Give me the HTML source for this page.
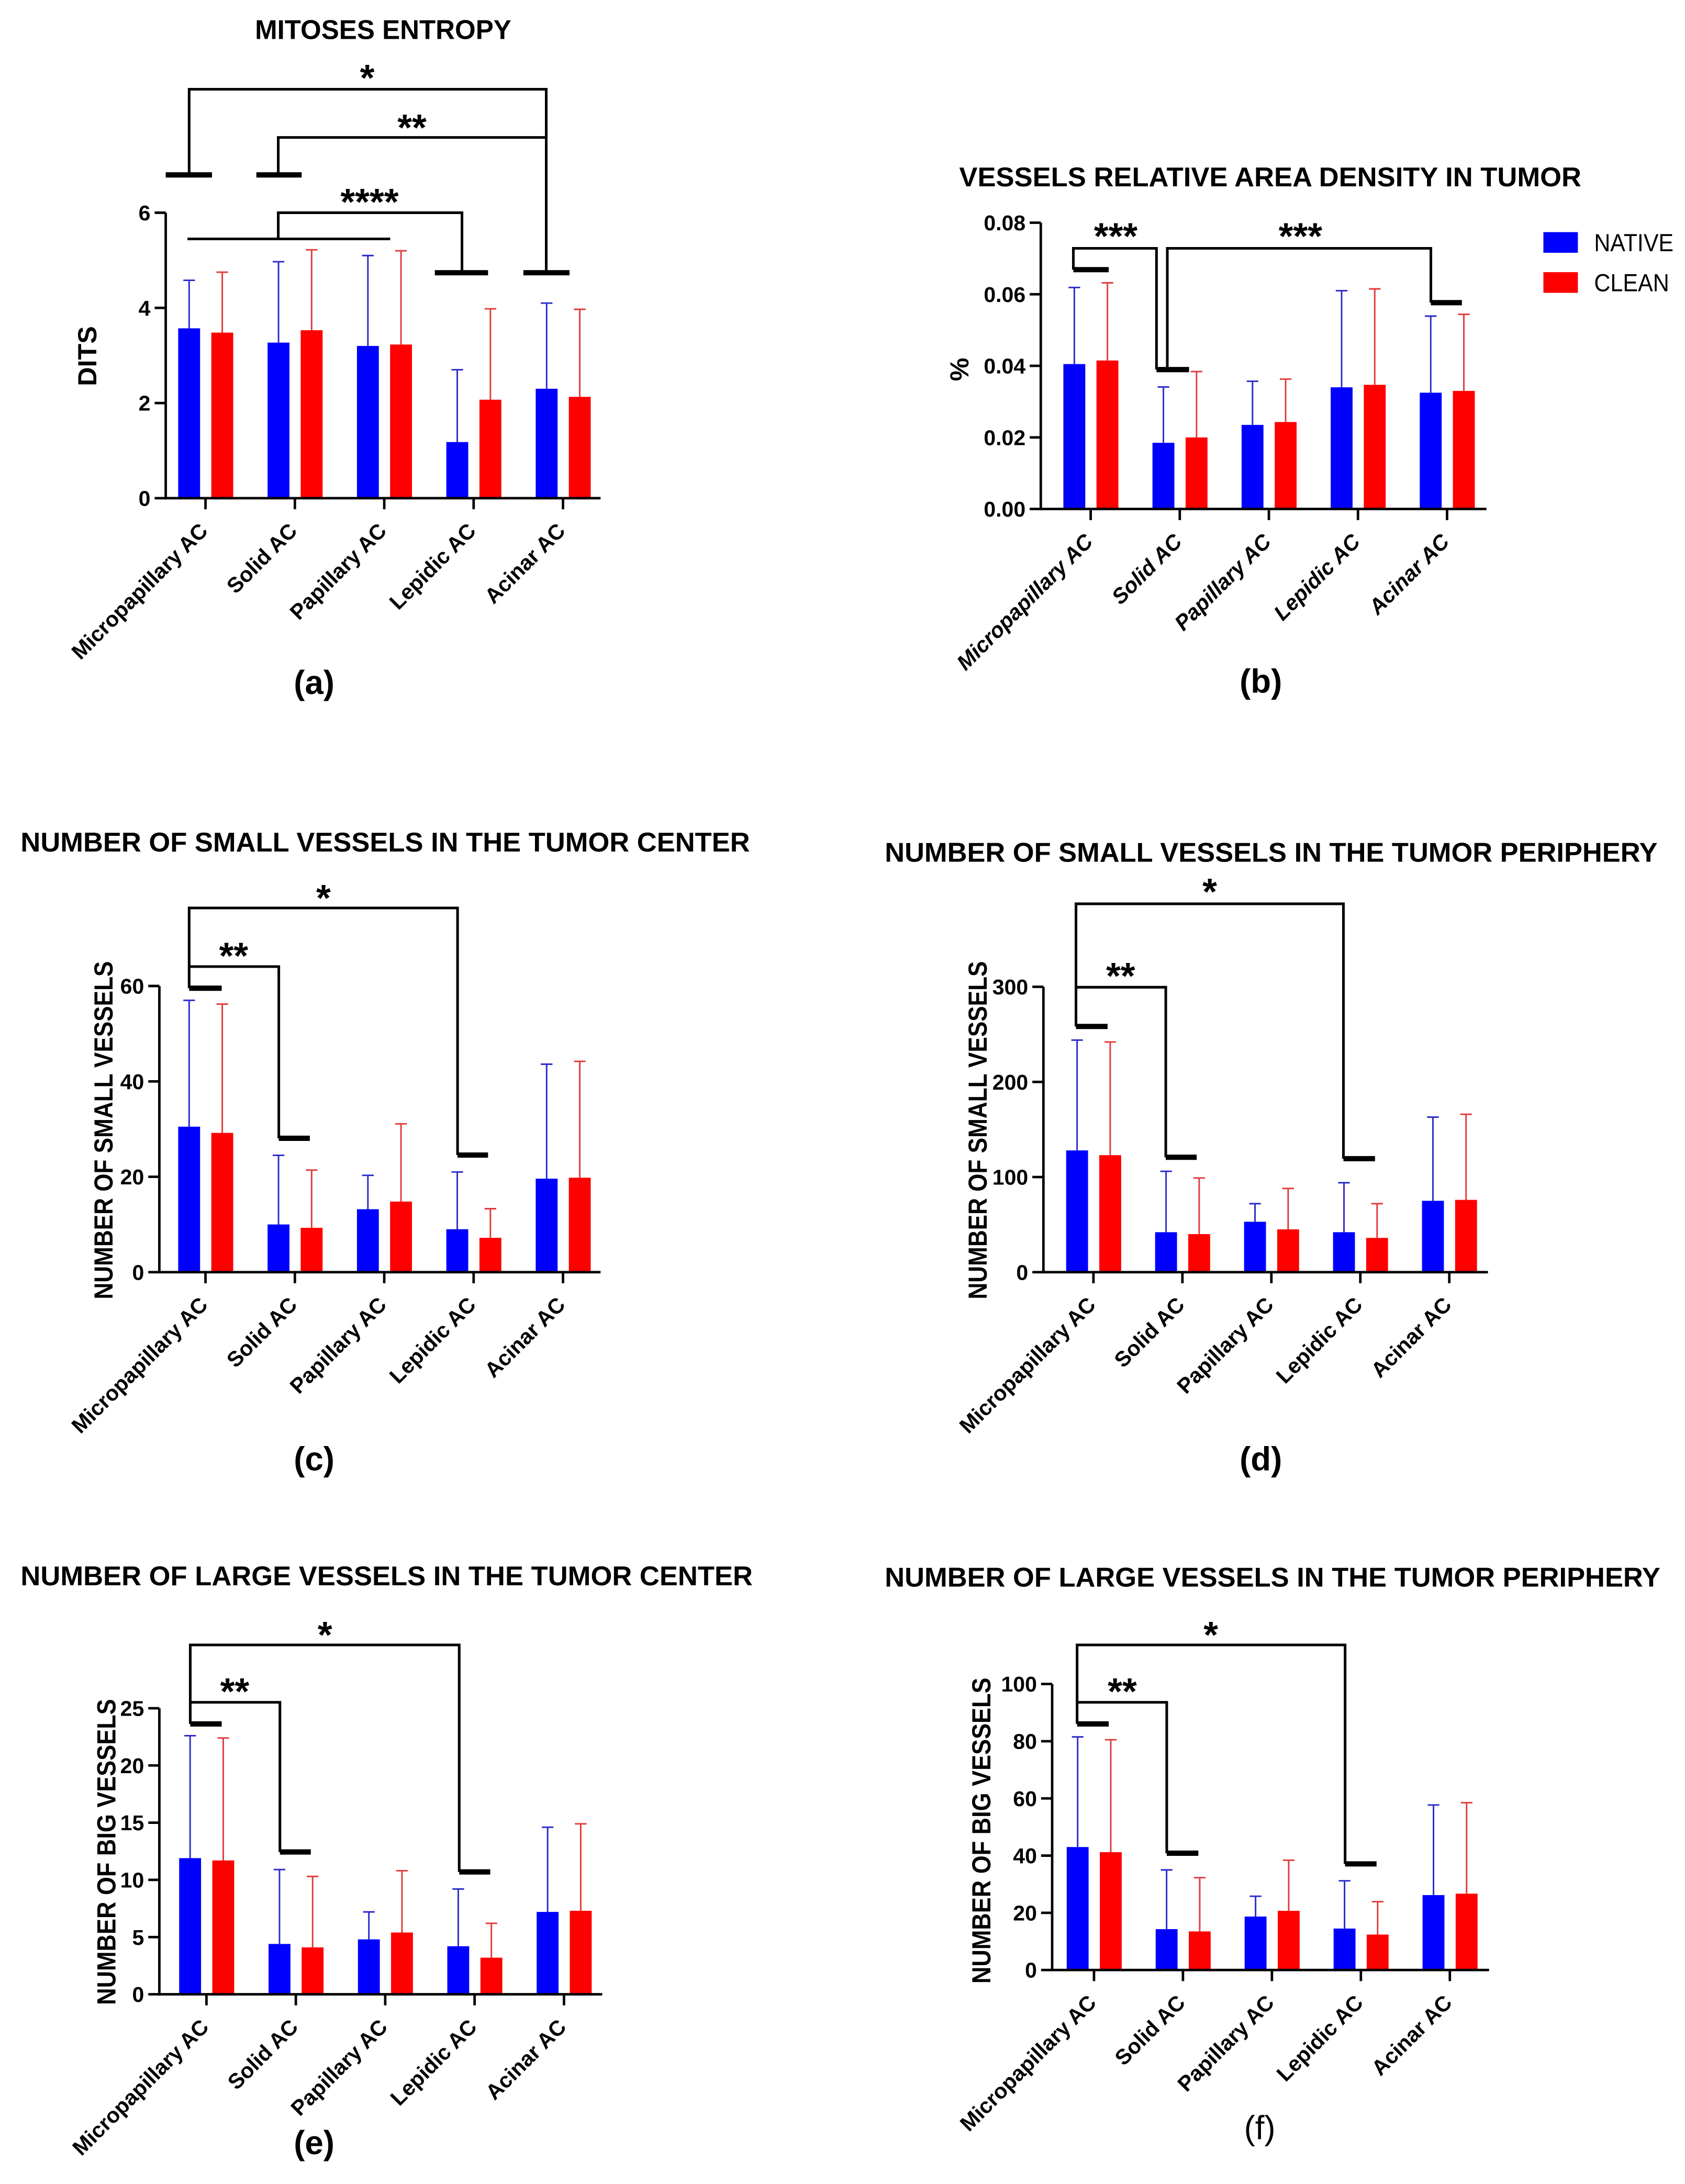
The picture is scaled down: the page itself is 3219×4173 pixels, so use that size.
<!DOCTYPE html>
<html>
<head>
<meta charset="utf-8">
<style>
  html, body { margin: 0; padding: 0; background: #ffffff; }
  svg { display: block; }
  text { font-family: "Liberation Sans", sans-serif; fill: #000; }
</style>
</head>
<body>
<svg id="fig" xmlns="http://www.w3.org/2000/svg" width="3219" height="4173" viewBox="0 0 1216 1576" preserveAspectRatio="none">
  <rect x="0" y="0" width="1216" height="1576" fill="#ffffff"/>
</svg>
<script>
// ---------- DATA ----------
const categories = ["Micropapillary AC", "Solid AC", "Papillary AC", "Lepidic AC", "Acinar AC"];

const aNative = [3.57, 3.27, 3.2, 1.18, 2.3];
const aClean = [3.48, 3.53, 3.23, 2.07, 2.13];
const aNativeErr = [4.58, 4.97, 5.1, 2.7, 4.1];
const aCleanErr = [4.75, 5.22, 5.2, 3.98, 3.97];
const aTicks = [0, 2, 4, 6];
const aTickLabels = ["0", "2", "4", "6"];

const bNative = [0.0405, 0.0185, 0.0235, 0.034, 0.0325];
const bClean = [0.0415, 0.0200, 0.0243, 0.0347, 0.0330];
const bNativeErr = [0.0619, 0.0341, 0.0357, 0.0610, 0.0539];
const bCleanErr = [0.0632, 0.0384, 0.0363, 0.0615, 0.0544];
const bTicks = [0, 0.02, 0.04, 0.06, 0.08];
const bTickLabels = ["0.00", "0.02", "0.04", "0.06", "0.08"];

const cNative = [30.5, 10.0, 13.2, 9.0, 19.6];
const cClean = [29.2, 9.3, 14.8, 7.2, 19.8];
const cNativeErr = [57.0, 24.5, 20.3, 21.0, 43.6];
const cCleanErr = [56.2, 21.4, 31.1, 13.3, 44.2];
const cTicks = [0, 20, 40, 60];
const cTickLabels = ["0", "20", "40", "60"];

const dNative = [128, 42, 53, 42, 75];
const dClean = [123, 40, 45, 36, 76];
const dNativeErr = [244, 106, 72, 94, 163];
const dCleanErr = [242, 99, 88, 72, 166];
const dTicks = [0, 100, 200, 300];
const dTickLabels = ["0", "100", "200", "300"];

const eNative = [11.9, 4.4, 4.8, 4.2, 7.2];
const eClean = [11.7, 4.1, 5.4, 3.2, 7.3];
const eNativeErr = [22.6, 10.9, 7.2, 9.2, 14.6];
const eCleanErr = [22.4, 10.3, 10.8, 6.2, 14.9];
const eTicks = [0, 5, 10, 15, 20, 25];
const eTickLabels = ["0", "5", "10", "15", "20", "25"];

const fNative = [43.0, 14.3, 18.7, 14.5, 26.2];
const fClean = [41.2, 13.5, 20.7, 12.4, 26.7];
const fNativeErr = [81.5, 35.0, 25.8, 31.2, 57.7];
const fCleanErr = [80.5, 32.3, 38.4, 23.9, 58.5];
const fTicks = [0, 20, 40, 60, 80, 100];
const fTickLabels = ["0", "20", "40", "60", "80", "100"];

// ---------- DRAWING ----------
const NS = "http://www.w3.org/2000/svg";
const svg = document.getElementById("fig");

function mk(tag, attrs, parent) {
  const el = document.createElementNS(NS, tag);
  for (const k in attrs) el.setAttribute(k, attrs[k]);
  (parent || svg).appendChild(el);
  return el;
}

function drawPanel(p) {
  const g = mk("g", {});
  
  
  const yScale = v => p.y0 - (v - p.min) / (p.max - p.min) * (p.y0 - p.yTop);
  const xScale = i => p.tick0 + i * p.step;

  const series = [
    { vals: p.nat, errs: p.natErr, off: -11.8, fill: "#0000ff", line: "#2a2acc", nm: "native" },
    { vals: p.cln, errs: p.clnErr, off: 12.1, fill: "#ff0000", line: "#e23a3a", nm: "clean" }
  ];
  series.forEach(s => {
    s.vals.forEach((v, i) => {
      const cx = xScale(i) + s.off;
      const top = yScale(v);
      const et = yScale(s.errs[i]);
      const eb = mk("path", { d: `M${cx},${top} V${et} M${cx - 4.2},${et} H${cx + 4.2}`, stroke: s.line, "stroke-width": 1.1, fill: "none" }, g);
      
      
      const r = mk("rect", { x: cx - 7.9, y: top, width: 15.8, height: p.y0 - top, fill: s.fill }, g);
      
      
    });
  });

  const ya = mk("line", { x1: p.axisX, y1: p.yTop, x2: p.axisX, y2: p.y0 + 0.9, stroke: "#000", "stroke-width": 1.8 }, g);
  
  
  const xa = mk("line", { x1: p.axisX - 8, y1: p.y0, x2: p.xEnd, y2: p.y0, stroke: "#000", "stroke-width": 1.8 }, g);
  
  

  p.ticks.forEach((t, i) => {
    const y = yScale(t);
    if (i > 0) {
      const tk = mk("line", { x1: p.axisX - 8, y1: y, x2: p.axisX, y2: y, stroke: "#000", "stroke-width": 1.8 }, g);
      
      
    }
    const tl = mk("text", { x: p.axisX - 11, y: y + 5.5, "text-anchor": "end", "font-size": 15.5, "font-weight": "bold" }, g);
    tl.textContent = p.tickLabels[i];
    
    
  });

  categories.forEach((c, i) => {
    const x = xScale(i);
    const tk = mk("line", { x1: x, y1: p.y0, x2: x, y2: p.y0 + 8, stroke: "#000", "stroke-width": 1.8 }, g);
    
    
    const lx = x + 2.5, ly = p.y0 + 24.5;
    const t = mk("text", { x: lx, y: ly, "text-anchor": "end", "font-size": 15.5, "font-weight": "bold", transform: `rotate(-45 ${lx} ${ly})` }, g);
    if (p.italic) t.setAttribute("font-style", "italic");
    t.textContent = c;
    
    
  });

  const tt = mk("text", { x: p.title.x, y: p.title.cy + 7, "font-size": 19.5, "font-weight": "bold", textLength: p.title.w, lengthAdjust: "spacingAndGlyphs" }, g);
  tt.textContent = p.title.t;
  
  

  const yt = p.ytitle;
  const yEl = mk("text", { x: yt.cx, y: yt.cy, "text-anchor": "middle", "font-size": 19, "font-weight": "bold", transform: `rotate(-90 ${yt.cx} ${yt.cy}) translate(0 6.8)` }, g);
  if (yt.w) { yEl.setAttribute("textLength", yt.w); yEl.setAttribute("lengthAdjust", "spacingAndGlyphs"); }
  yEl.textContent = yt.t;
  
  

  const br = mk("path", { d: p.brLines, stroke: "#000", "stroke-width": 1.9, fill: "none" }, g);
  
  
  const cp = mk("path", { d: p.brCaps, stroke: "#000", "stroke-width": 3.8, fill: "none" }, g);
  
  
  p.stars.forEach(s => {
    const st = mk("text", { x: s[0], y: s[1] + 15, "text-anchor": "middle", "font-size": 27, "font-weight": "bold" }, g);
    st.textContent = s[2];
    
    
  });

  const pl = mk("text", { x: p.letter[0], y: p.letter[1] + 8, "text-anchor": "middle", "font-size": 24, "font-weight": p.letter[3] ? "normal" : "bold", "font-family": p.letter[3] ? '"Liberation Serif", serif' : '"Liberation Sans", sans-serif' }, g);
  pl.textContent = p.letter[2];
  
  
}

drawPanel({
  id: "panel-a", nat: aNative, cln: aClean, natErr: aNativeErr, clnErr: aCleanErr,
  ticks: aTicks, tickLabels: aTickLabels, min: 0, max: 6,
  y0: 359.5, yTop: 153.5, axisX: 119.6, xEnd: 433.4, tick0: 148.3, step: 64.5,
  title: { t: "MITOSES ENTROPY", x: 184, cy: 21.1, w: 185 },
  ytitle: { t: "DITS", cx: 62.8, cy: 257 },
  brLines: "M136.5,126.2 V64.4 H394.2 V196.8 M200.8,126.2 V99.2 H394.2 M135.3,172.4 H281.6 M200.8,172.4 V153.5 H333.4 V196.8",
  brCaps: "M119.6,126.2 H153 M185,126.2 H217.7 M377.7,196.8 H411 M313.8,196.8 H352.2",
  stars: [[265, 50.4, "*"], [297.3, 86.2, "**"], [266.7, 139.9, "****"]],
  letter: [226.7, 492.8, "(a)"]
});

drawPanel({
  id: "panel-b", nat: bNative, cln: bClean, natErr: bNativeErr, clnErr: bCleanErr,
  ticks: bTicks, tickLabels: bTickLabels, min: 0, max: 0.08,
  y0: 367.3, yTop: 160.7, axisX: 751.1, xEnd: 1072.7, tick0: 787.1, step: 64.3, italic: true,
  title: { t: "VESSELS RELATIVE AREA DENSITY IN TUMOR", x: 692.2, cy: 127.5, w: 449 },
  ytitle: { t: "%", cx: 692, cy: 266.6 },
  brLines: "M774.6,194.6 V179.2 H834.6 V266.7 M842.4,266.7 V179.2 H1032.6 V218.4",
  brCaps: "M774.6,194.6 H800.1 M834.6,266.7 H858.1 M1032.6,218.4 H1055",
  stars: [[805.2, 164.6, "***"], [938.5, 164.6, "***"]],
  letter: [909.9, 491.9, "(b)"]
});

drawPanel({
  id: "panel-c", nat: cNative, cln: cClean, natErr: cNativeErr, clnErr: cCleanErr,
  ticks: cTicks, tickLabels: cTickLabels, min: 0, max: 60,
  y0: 918, yTop: 711.5, axisX: 115, xEnd: 433.4, tick0: 148.3, step: 64.5,
  title: { t: "NUMBER OF SMALL VESSELS IN THE TUMOR CENTER", x: 14.9, cy: 607.4, w: 526.3 },
  ytitle: { t: "NUMBER OF SMALL VESSELS", cx: 74.5, cy: 815.6, w: 244 },
  brLines: "M136.5,713.1 V655.2 H330.2 V833.5 M136.5,697.5 H201.2 V821.4",
  brCaps: "M136.5,713.1 H160 M330.2,833.5 H352.2 M201.2,821.4 H223.6",
  stars: [[233.4, 642.2, "*"], [168.6, 683.8, "**"]],
  letter: [226.7, 1053, "(c)"]
});

drawPanel({
  id: "panel-d", nat: dNative, cln: dClean, natErr: dNativeErr, clnErr: dCleanErr,
  ticks: dTicks, tickLabels: dTickLabels, min: 0, max: 300,
  y0: 918, yTop: 712.1, axisX: 753, xEnd: 1073.8, tick0: 789.1, step: 64.2,
  title: { t: "NUMBER OF SMALL VESSELS IN THE TUMOR PERIPHERY", x: 638.5, cy: 614.8, w: 557.7 },
  ytitle: { t: "NUMBER OF SMALL VESSELS", cx: 705.2, cy: 815.6, w: 244 },
  brLines: "M776.5,740.7 V652.2 H969.5 V836.1 M776.5,712.4 H841.3 V835.1",
  brCaps: "M776.5,740.7 H799.3 M969.5,836.1 H992.3 M841.3,835.1 H863.6",
  stars: [[873, 637.6, "*"], [808.7, 698.5, "**"]],
  letter: [909.9, 1053, "(d)"]
});

drawPanel({
  id: "panel-e", nat: eNative, cln: eClean, natErr: eNativeErr, clnErr: eCleanErr,
  ticks: eTicks, tickLabels: eTickLabels, min: 0, max: 25,
  y0: 1439.1, yTop: 1232.7, axisX: 115, xEnd: 434.6, tick0: 149, step: 64.5,
  title: { t: "NUMBER OF LARGE VESSELS IN THE TUMOR CENTER", x: 14.9, cy: 1137, w: 528.3 },
  ytitle: { t: "NUMBER OF BIG  VESSELS", cx: 76.5, cy: 1336.4, w: 220.8 },
  brLines: "M137.3,1244 V1187 H331.4 V1350.8 M137.3,1228.4 H202 V1336.4",
  brCaps: "M137.3,1244 H160 M331.4,1350.8 H353.8 M202,1336.4 H224.3",
  stars: [[234.5, 1173.8, "*"], [169.4, 1214.6, "**"]],
  letter: [226.7, 1546.4, "(e)"]
});

drawPanel({
  id: "panel-f", nat: fNative, cln: fClean, natErr: fNativeErr, clnErr: fCleanErr,
  ticks: fTicks, tickLabels: fTickLabels, min: 0, max: 100,
  y0: 1421.6, yTop: 1215.2, axisX: 759.3, xEnd: 1074.6, tick0: 789.5, step: 64.2,
  title: { t: "NUMBER OF LARGE VESSELS IN THE TUMOR PERIPHERY", x: 638.5, cy: 1137.9, w: 559.7 },
  ytitle: { t: "NUMBER OF BIG  VESSELS", cx: 707.9, cy: 1321, w: 220.8 },
  brLines: "M777.3,1244 V1187 H970.7 V1345 M777.3,1228.4 H842 V1337.3",
  brCaps: "M777.3,1244 H800.1 M970.7,1345 H993.4 M842,1337.3 H864.8",
  stars: [[873.8, 1173.8, "*"], [809.9, 1214.6, "**"]],
  letter: [909.1, 1535.7, "(f)", true]
});

const lg = mk("g", {});


const lr1 = mk("rect", { x: 1113.8, y: 167.5, width: 24.9, height: 14.9, fill: "#0000ff" }, lg);


const lt1 = mk("text", { x: 1150.4, y: 181.3, "font-size": 18, textLength: 57.3, lengthAdjust: "spacingAndGlyphs" }, lg);
lt1.textContent = "NATIVE";


const lr2 = mk("rect", { x: 1113.8, y: 196.4, width: 24.9, height: 14.9, fill: "#ff0000" }, lg);


const lt2 = mk("text", { x: 1150.4, y: 210.1, "font-size": 18, textLength: 54.2, lengthAdjust: "spacingAndGlyphs" }, lg);
lt2.textContent = "CLEAN";


</script>
</body>
</html>
